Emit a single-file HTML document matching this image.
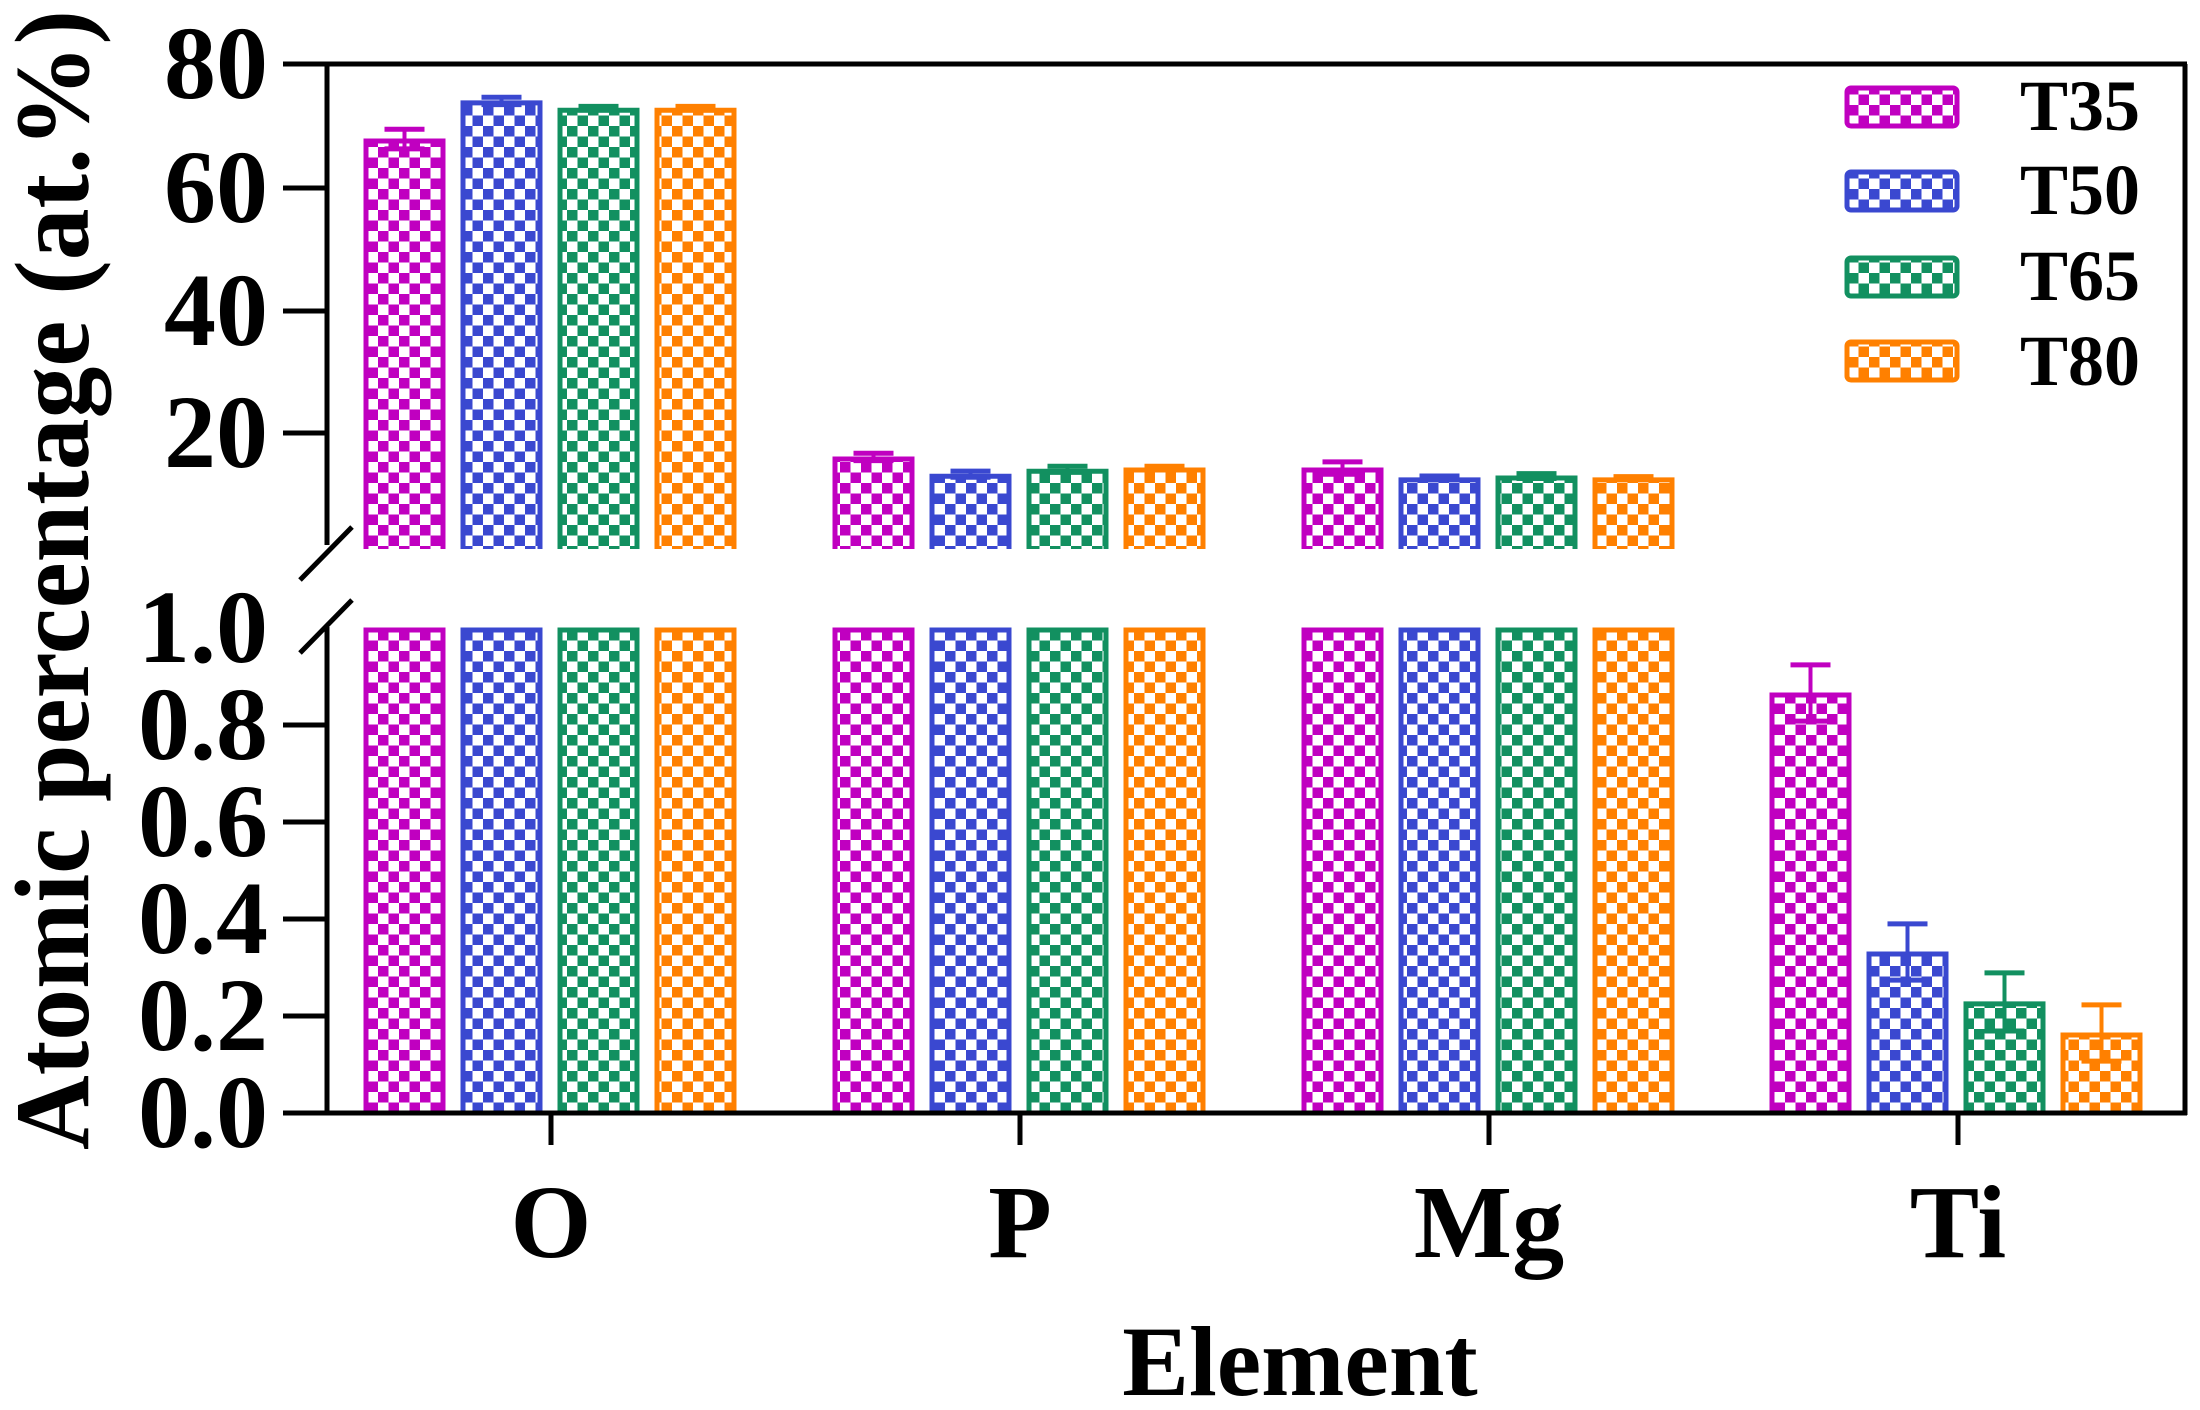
<!DOCTYPE html>
<html><head><meta charset="utf-8"><style>html,body{margin:0;padding:0;background:#fff}svg{display:block}</style></head>
<body>
<svg width="2200" height="1410" viewBox="0 0 2200 1410" xmlns="http://www.w3.org/2000/svg" font-family="'Liberation Serif',serif" font-weight="bold">
<defs>
<pattern id="pm" width="21" height="21" patternUnits="userSpaceOnUse"><rect width="21" height="21" fill="#fff"/><rect width="10.5" height="10.5" fill="#c000c0"/><rect x="10.5" y="10.5" width="10.5" height="10.5" fill="#c000c0"/></pattern>
<pattern id="pb" width="21" height="21" patternUnits="userSpaceOnUse"><rect width="21" height="21" fill="#fff"/><rect width="10.5" height="10.5" fill="#3a48d0"/><rect x="10.5" y="10.5" width="10.5" height="10.5" fill="#3a48d0"/></pattern>
<pattern id="pg" width="21" height="21" patternUnits="userSpaceOnUse"><rect width="21" height="21" fill="#fff"/><rect width="10.5" height="10.5" fill="#129060"/><rect x="10.5" y="10.5" width="10.5" height="10.5" fill="#129060"/></pattern>
<pattern id="po" width="21" height="21" patternUnits="userSpaceOnUse"><rect width="21" height="21" fill="#fff"/><rect width="10.5" height="10.5" fill="#ff8000"/><rect x="10.5" y="10.5" width="10.5" height="10.5" fill="#ff8000"/></pattern>
</defs>
<g id="bars" stroke-width="5"></g>
<g stroke="#000" stroke-width="5" fill="none">
<line x1="283" y1="64" x2="2187" y2="64"/>
<line x1="2185" y1="64" x2="2185" y2="1115"/>
<line x1="327" y1="64" x2="327" y2="545"/>
<line x1="327" y1="627" x2="327" y2="1113"/>
<line x1="283" y1="1113" x2="2187" y2="1113"/>
<line x1="283" y1="188" x2="327" y2="188"/>
<line x1="283" y1="311" x2="327" y2="311"/>
<line x1="283" y1="433" x2="327" y2="433"/>
<line x1="283" y1="725" x2="327" y2="725"/>
<line x1="283" y1="822" x2="327" y2="822"/>
<line x1="283" y1="919" x2="327" y2="919"/>
<line x1="283" y1="1016" x2="327" y2="1016"/>
<line x1="300" y1="580" x2="352" y2="527"/>
<line x1="300" y1="653" x2="352" y2="600"/>
<line x1="551" y1="1113" x2="551" y2="1145"/>
<line x1="1020" y1="1113" x2="1020" y2="1145"/>
<line x1="1489" y1="1113" x2="1489" y2="1145"/>
<line x1="1958" y1="1113" x2="1958" y2="1145"/>
</g>
<g font-size="104" text-anchor="end" fill="#000">
<text x="268" y="98">80</text>
<text x="268" y="222">60</text>
<text x="268" y="345">40</text>
<text x="268" y="467">20</text>
<text x="268" y="662">1.0</text>
<text x="268" y="759">0.8</text>
<text x="268" y="856">0.6</text>
<text x="268" y="953">0.4</text>
<text x="268" y="1050">0.2</text>
<text x="268" y="1147">0.0</text>
</g>
<g font-size="104" text-anchor="middle" fill="#000">
<text x="551" y="1257">O</text>
<text x="1020" y="1257">P</text>
<text x="1489" y="1257">Mg</text>
<text x="1958" y="1257">Ti</text>
<text x="1300" y="1395" font-size="100">Element</text>
</g>
<text transform="translate(88,580) rotate(-90)" font-size="106" text-anchor="middle" textLength="1140" lengthAdjust="spacingAndGlyphs">Atomic percentage (at.%)</text>
<g stroke-width="5">
<rect x="1847" y="88" width="110" height="38" rx="4" fill="url(#pm)" stroke="#c000c0"/>
<rect x="1847" y="172" width="110" height="38" rx="4" fill="url(#pb)" stroke="#3a48d0"/>
<rect x="1847" y="258" width="110" height="38" rx="4" fill="url(#pg)" stroke="#129060"/>
<rect x="1847" y="342" width="110" height="38" rx="4" fill="url(#po)" stroke="#ff8000"/>
</g>
<g font-size="72" fill="#000">
<text x="2020" y="130">T35</text>
<text x="2020" y="214">T50</text>
<text x="2020" y="300">T65</text>
<text x="2020" y="385">T80</text>
</g>
<script>
(function(){
var ns="http://www.w3.org/2000/svg",g=document.getElementById('bars');
var cols=['#c000c0','#3a48d0','#129060','#ff8000'],pats=['pm','pb','pg','po'];
var centers=[557,1026,1495,1963];
var upper=[[67.8,1.6],[74,0.6],[72.8,0.3],[72.8,0.3]];
var P=[[16.1,0.6],[13.3,0.5],[14.1,0.5],[14.3,0.3]];
var Mg=[[14.3,1.0],[12.7,0.3],[13.0,0.4],[12.7,0.2]];
var Ti=[[0.866,0.058],[0.332,0.058],[0.229,0.06],[0.165,0.058]];
function yu(v){return 64+(80-v)*6.15;}
function yl(v){return 1113-v*485;}
function el(t,a){var e=document.createElementNS(ns,t);for(var k in a)e.setAttribute(k,a[k]);g.appendChild(e);return e;}
function bar(x,top,bot,i){el('rect',{x:x+2.5,y:top,width:77,height:bot-top,fill:'url(#'+pats[i]+')',stroke:'none'});
el('path',{d:'M'+(x+2.5)+' '+bot+'V'+(top+2)+'H'+(x+79.5)+'V'+bot,fill:'none',stroke:cols[i],'stroke-width':5});}
function err(cx,top,hi,lo,i){el('line',{x1:cx,y1:hi,x2:cx,y2:lo,stroke:cols[i],'stroke-width':4});
el('line',{x1:cx-20,y1:hi,x2:cx+20,y2:hi,stroke:cols[i],'stroke-width':5});
el('line',{x1:cx-20,y1:lo,x2:cx+20,y2:lo,stroke:cols[i],'stroke-width':5});}
var ups=[upper,P,Mg];
for(var gi=0;gi<4;gi++){
 for(var i=0;i<4;i++){
  var x=centers[gi]-193.5+i*97,cx=x+41;
  if(gi<3){var d=ups[gi][i];
   bar(x,yu(d[0]),549,i);err(cx,yu(d[0]),yu(d[0]+d[1]),yu(d[0]-d[1]),i);
   bar(x,628,1111,i);
  } else {var d=Ti[i];
   bar(x,yl(d[0]),1111,i);err(cx,yl(d[0]),yl(d[0]+d[1]),yl(d[0]-d[1]),i);}
 }
}
})();
</script>
</svg>
</body></html>
